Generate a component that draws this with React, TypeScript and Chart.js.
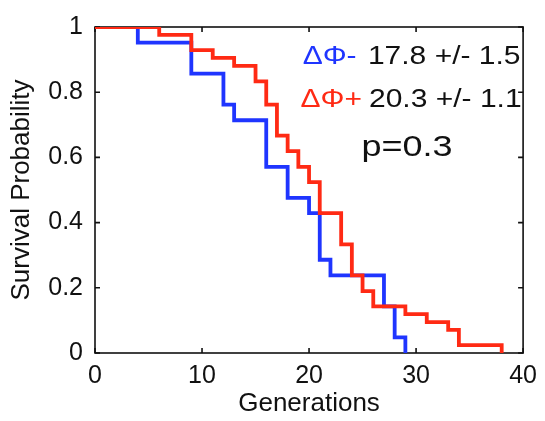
import React, { useEffect, useRef } from 'react';
import { Chart, registerables } from 'chart.js';

Chart.register(...registerables);

// Kaplan–Meier survival curves (generation at which the step occurs, survival after it)
const minusGenerations = [0, 4, 9, 12, 13, 16, 18, 20, 21, 22, 27, 28, 29];
const minusSurvival = [1, 0.952, 0.857, 0.762, 0.714, 0.571, 0.476, 0.429, 0.286, 0.238, 0.143, 0.048, 0];

const plusGenerations = [0, 6, 9, 11, 13, 15, 16, 17, 18, 19, 20, 21, 23, 24, 25, 26, 29, 31, 33, 34, 38];
const plusSurvival = [1, 0.976, 0.929, 0.905, 0.881, 0.833, 0.762, 0.667, 0.619, 0.571, 0.524, 0.429, 0.333, 0.238, 0.19, 0.143, 0.119, 0.095, 0.071, 0.024, 0];

const xTickValues = [0, 10, 20, 30, 40];
const yTickValues = [0, 0.2, 0.4, 0.6, 0.8, 1];
const yTickLabels = ['0', '0.2', '0.4', '0.6', '0.8', '1'];

const minusName = 'ΔΦ-';
const minusStat = '17.8 +/- 1.5';
const plusName = 'ΔΦ+';
const plusStat = '20.3 +/- 1.1';
const pValueText = 'p=0.3';

const xTitle = 'Generations';
const yTitle = 'Survival Probability';

const BLUE = '#1f35ff';
const RED = '#ff2a14';
const INK = '#111111';
const FONT = '"Liberation Sans", Arial, Helvetica, sans-serif';

function stretchedText(ctx: CanvasRenderingContext2D, text: string, x: number, y: number, sx: number) {
  ctx.save();
  ctx.translate(x, y);
  ctx.scale(sx, 1);
  ctx.fillText(text, 0, 0);
  ctx.restore();
}

const framePlugin = {
  id: 'matlabFrame',
  beforeDatasetsDraw(chart: any) {
    const { ctx, chartArea: a, scales } = chart;
    ctx.save();
    ctx.strokeStyle = INK;
    ctx.lineWidth = 1.6;
    ctx.strokeRect(a.left, a.top, a.right - a.left, a.bottom - a.top);
    const tl = 5;
    ctx.beginPath();
    xTickValues.forEach((v) => {
      const px = scales.x.getPixelForValue(v);
      ctx.moveTo(px, a.bottom);
      ctx.lineTo(px, a.bottom - tl);
      ctx.moveTo(px, a.top);
      ctx.lineTo(px, a.top + tl);
    });
    yTickValues.forEach((v) => {
      const py = scales.y.getPixelForValue(v);
      ctx.moveTo(a.left, py);
      ctx.lineTo(a.left + tl, py);
      ctx.moveTo(a.right, py);
      ctx.lineTo(a.right - tl, py);
    });
    ctx.stroke();
    ctx.restore();
  },
  afterDraw(chart: any) {
    const { ctx, scales } = chart;
    const x = scales.x;
    const y = scales.y;
    ctx.save();
    ctx.textBaseline = 'alphabetic';
    ctx.textAlign = 'left';
    ctx.font = `25px ${FONT}`;
    const sx = 1.2;
    ctx.fillStyle = BLUE;
    stretchedText(ctx, minusName, x.getPixelForValue(19.4), y.getPixelForValue(0.888), sx);
    ctx.fillStyle = INK;
    stretchedText(ctx, minusStat, x.getPixelForValue(25.5), y.getPixelForValue(0.888), sx);
    ctx.fillStyle = RED;
    stretchedText(ctx, plusName, x.getPixelForValue(19.2), y.getPixelForValue(0.756), sx);
    ctx.fillStyle = INK;
    stretchedText(ctx, plusStat, x.getPixelForValue(25.6), y.getPixelForValue(0.756), sx);
    ctx.font = `30px ${FONT}`;
    stretchedText(ctx, pValueText, x.getPixelForValue(24.9), y.getPixelForValue(0.605), sx);
    ctx.restore();
  },
};

export default function App() {
  const canvasRef = useRef<HTMLCanvasElement | null>(null);

  useEffect(() => {
    document.body.style.margin = '0';
    const canvas = canvasRef.current;
    if (!canvas) return;
    const chart = new Chart(canvas, {
      type: 'line',
      data: {
        datasets: [
          {
            label: plusName,
            data: plusGenerations.map((g, i) => ({ x: g, y: plusSurvival[i] })),
            borderColor: RED,
            backgroundColor: RED,
            borderWidth: 3.8,
            stepped: 'before',
            pointRadius: 0,
            fill: false,
            order: 0,
          },
          {
            label: minusName,
            data: minusGenerations.map((g, i) => ({ x: g, y: minusSurvival[i] })),
            borderColor: BLUE,
            backgroundColor: BLUE,
            borderWidth: 3.8,
            stepped: 'before',
            pointRadius: 0,
            fill: false,
            order: 1,
          },
        ],
      },
      options: {
        responsive: false,
        animation: false,
        devicePixelRatio: 1,
        layout: { padding: { top: 23, right: 20, left: 0, bottom: 0 } },
        plugins: {
          legend: { display: false },
          tooltip: { enabled: false },
        },
        scales: {
          x: {
            type: 'linear',
            min: 0,
            max: 40,
            grid: { display: false, drawTicks: false, tickLength: 0 },
            border: { display: false },
            afterBuildTicks: (s: any) => {
              s.ticks = xTickValues.map((v) => ({ value: v }));
            },
            afterFit: (s: any) => {
              s.height = 68;
            },
            ticks: {
              color: INK,
              padding: 8,
              maxRotation: 0,
              font: { family: FONT, size: 25 },
              callback: (v: any) => String(v),
            },
            title: {
              display: true,
              text: xTitle,
              color: INK,
              font: { family: FONT, size: 26 },
              padding: { top: 0, bottom: 2 },
            },
          },
          y: {
            type: 'linear',
            min: 0,
            max: 1,
            grid: { display: false, drawTicks: false, tickLength: 0 },
            border: { display: false },
            afterBuildTicks: (s: any) => {
              s.ticks = yTickValues.map((v) => ({ value: v }));
            },
            afterFit: (s: any) => {
              s.width = 95;
            },
            ticks: {
              color: INK,
              padding: 12,
              font: { family: FONT, size: 25 },
              callback: (v: any) => {
                const i = yTickValues.indexOf(Number(v));
                return i >= 0 ? yTickLabels[i] : String(v);
              },
            },
            title: {
              display: true,
              text: yTitle,
              color: INK,
              font: { family: FONT, size: 26 },
              padding: { top: 6, bottom: 0 },
            },
          },
        },
      },
      plugins: [framePlugin],
    } as any);
    return () => chart.destroy();
  }, []);

  return <canvas ref={canvasRef} width={545} height={421} style={{ display: 'block' }} />;
}
